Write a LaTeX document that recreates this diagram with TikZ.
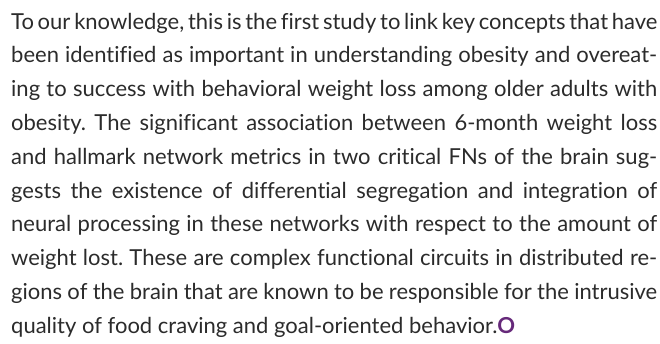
\documentclass[tikz,border=0pt]{standalone}
\usepackage{fontspec}
\setmainfont{Lato}[Ligatures=CommonOff]
\definecolor{txt}{HTML}{2B2B2B}
\definecolor{purp}{HTML}{66297A}
\frenchspacing
\begin{document}
\begin{tikzpicture}[x=1pt,y=1pt,
  txtline/.style={anchor=base west,inner sep=0pt,text=txt,font=\fontsize{22}{26}\selectfont}]
\useasboundingbox (0,0) rectangle (660,-343);
\def\LW{646pt}
\node[txtline] (l1) at (11,-29) {\makebox[\LW][s]{To our knowledge, this is the first study to link key concepts that have}};
\node[txtline] (l2) at (11,-62.8) {\makebox[\LW][s]{been identified as important in understanding obesity and overeat-}};
\node[txtline] (l3) at (11,-96.6) {\makebox[\LW][s]{ing to success with behavioral weight loss among older adults with}};
\node[txtline] (l4) at (11,-130.4) {\makebox[\LW][s]{obesity. The significant association between 6-month weight loss}};
\node[txtline] (l5) at (11,-164.2) {\makebox[\LW][s]{and hallmark network metrics in two critical FNs of the brain sug-}};
\node[txtline] (l6) at (11,-198) {\makebox[\LW][s]{gests the existence of differential segregation and integration of}};
\node[txtline] (l7) at (11,-231.8) {\makebox[\LW][s]{neural processing in these networks with respect to the amount of}};
\node[txtline] (l8) at (11,-265.6) {\makebox[\LW][s]{weight lost. These are complex functional circuits in distributed re-}};
\node[txtline] (l9) at (11,-299.4) {\makebox[\LW][s]{gions of the brain that are known to be responsible for the intrusive}};
\node[txtline] (l10) at (11,-333.2) {quality of food craving and goal-oriented behavior.{\color{purp}\bfseries O}};
\end{tikzpicture}
\end{document}
